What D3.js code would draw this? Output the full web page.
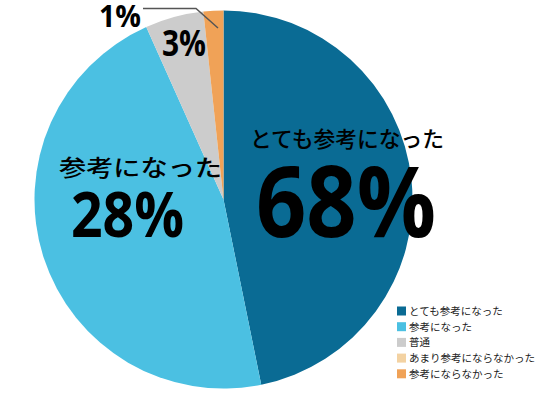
<!DOCTYPE html>
<html><head><meta charset="utf-8">
<script src="https://cdn.jsdelivr.net/npm/d3@7/dist/d3.min.js"></script>
<style>html,body{margin:0;padding:0;background:#fff;}svg{display:block;}</style>
</head><body>
<svg id="c" width="547" height="400"></svg>
<script>
const categories = ["とても参考になった","参考になった","普通","あまり参考にならなかった","参考にならなかった"];
const sliceValues = [46.8, 46.5, 5.0, 0, 1.7];
const percentLabels = ["68%","28%","3%","","1%"];
const colors = ["#0a6b94","#4bc0e2","#cccccc","#f3d2a2","#f0a257"];

const svg = d3.select("#c");
const cx = 223.5, cy = 199.5, R = 189;
const pie = d3.pie().sort(null).value(d => d).startAngle(0).endAngle(2*Math.PI);
const arc = d3.arc().innerRadius(0).outerRadius(R);
const g = svg.append("g").attr("transform", `translate(${cx},${cy})`);
g.selectAll("path").data(pie(sliceValues)).join("path")
  .attr("d", arc).attr("fill", (d,i) => colors[i]);

const jp = "'Noto Sans CJK JP','Noto Sans',sans-serif";
const num = "'Open Sans','Noto Sans',sans-serif";

function txt(x, y, s, size, fam, weight, len) {
  const t = svg.append("text").attr("x", x).attr("y", y).text(s)
    .attr("font-family", fam).attr("font-size", size).attr("font-weight", weight).attr("fill", "#000");
  if (len) t.attr("textLength", len).attr("lengthAdjust", "spacingAndGlyphs");
  return t;
}
// dark blue label
txt(250, 147, categories[0], 22, jp, 500, 194);
txt(256, 237, percentLabels[0], 98, num, 700, 180);
// light blue label
txt(59, 176, categories[1], 23, jp, 500, 163);
txt(71, 237, percentLabels[1], 62, num, 700, 113);
// grey
txt(162, 56, percentLabels[2], 36, num, 700, 44);
// orange
txt(99, 27, percentLabels[4], 31, num, 700, 42);
// leader line
svg.append("polyline").attr("points", "143,8.5 196,8.5 218,28")
  .attr("fill", "none").attr("stroke", "#555").attr("stroke-width", 1.5);

// legend
const ly = d3.scaleBand().domain(categories).range([304, 382.5]).paddingInner(0);
const lg = svg.append("g");
const rows = lg.selectAll("g").data(categories).join("g")
  .attr("transform", d => `translate(397,${ly(d)})`);
rows.append("rect").attr("width", 9).attr("height", 9).attr("y", 2.5).attr("fill", (d,i) => colors[i]);
rows.append("text").attr("x", 12).attr("y", 11).text(d => d)
  .attr("font-family", jp).attr("font-size", 10.5).attr("fill", "#222");
</script>
</body></html>
